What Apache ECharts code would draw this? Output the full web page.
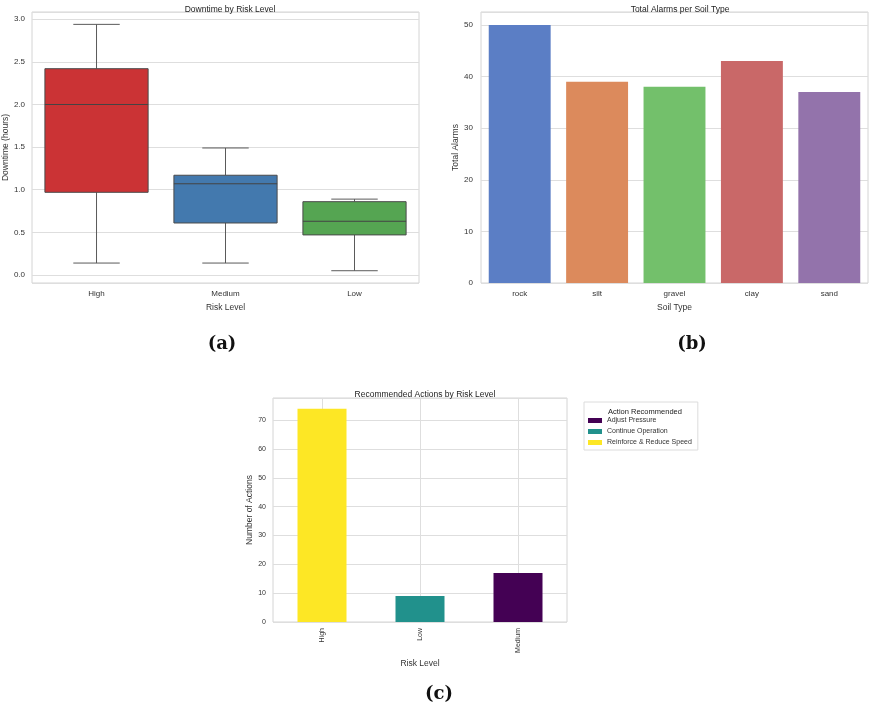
<!DOCTYPE html>
<html><head><meta charset="utf-8">
<script src="https://cdn.jsdelivr.net/npm/echarts@6/dist/echarts.min.js"></script>
<style>html,body{margin:0;padding:0;background:#fff}#c{width:873px;height:705px}</style>
</head><body><div id="c"></div>
<script>
// (a) Downtime by Risk Level
const riskLevels = ['High', 'Medium', 'Low'];
const whiskerLow = [0.14, 0.14, 0.05];
const q1 = [0.97, 0.61, 0.47];
const median = [2.00, 1.07, 0.63];
const q3 = [2.42, 1.17, 0.86];
const whiskerHigh = [2.94, 1.49, 0.89];

// (b) Total Alarms per Soil Type
const soilTypes = ['rock', 'silt', 'gravel', 'clay', 'sand'];
const totalAlarms = [50, 39, 38, 43, 37];

// (c) Recommended Actions by Risk Level
const actionRiskLevels = ['High', 'Low', 'Medium'];
const actionNames = ['Adjust Pressure', 'Continue Operation', 'Reinforce & Reduce Speed'];
const adjustPressure = [0, 0, 17];
const continueOperation = [0, 9, 0];
const reinforceReduce = [74, 0, 0];

// styles
const boxColors = ['#cb3335', '#4379ae', '#55a552'];
const soilColors = ['#5b7ec5', '#dc8a5c', '#73c06b', '#c96868', '#9373ab'];
const actionColors = ['#440154', '#21918c', '#fde725'];
const FONT = 'Liberation Sans';
const gridLine = {show: true, lineStyle: {color: '#dedede', width: 1}};
const tickLbl = {color: '#333', fontSize: 8, fontFamily: FONT};
const nameStyle = {color: '#333', fontSize: 8.5, fontFamily: FONT};
const panelLbl = {fontSize: 18, fontWeight: 'bold', color: '#111', fontFamily: 'DejaVu Serif'};

const chart = echarts.init(document.getElementById('c'));

const boxData = riskLevels.map((r, i) => [i, whiskerLow[i], q1[i], median[i], q3[i], whiskerHigh[i]]);

const option = {
  animation: false,
  backgroundColor: '#fff',
  textStyle: {fontFamily: FONT},
  title: [
    {text: 'Downtime by Risk Level', left: 225, top: 0, textAlign: 'center', textStyle: {fontSize: 8.5, fontWeight: 'normal', color: '#222', fontFamily: FONT}},
    {text: 'Total Alarms per Soil Type', left: 675, top: 0, textAlign: 'center', textStyle: {fontSize: 8.5, fontWeight: 'normal', color: '#222', fontFamily: FONT}},
    {text: 'Recommended Actions by Risk Level', left: 420, top: 385, textAlign: 'center', textStyle: {fontSize: 8.5, fontWeight: 'normal', color: '#222', fontFamily: FONT}},
    {text: 'Action Recommended', left: 640, top: 403, textAlign: 'center', textStyle: {fontSize: 7.5, fontWeight: 'normal', color: '#222', fontFamily: FONT}},
    {text: '(a)', left: 217, top: 330, textAlign: 'center', textStyle: panelLbl},
    {text: '(b)', left: 687, top: 330, textAlign: 'center', textStyle: panelLbl},
    {text: '(c)', left: 434, top: 680, textAlign: 'center', textStyle: panelLbl}
  ],
  legend: {
    data: actionNames,
    orient: 'vertical',
    left: 584, top: 402,
    width: 113,
    padding: [15, 6, 4, 4],
    itemWidth: 14, itemHeight: 5, itemGap: 4,
    borderColor: '#dcdcdc', borderWidth: 1,
    textStyle: {fontSize: 7, color: '#333', fontFamily: FONT},
    icon: 'rect'
  },
  grid: [
    {left: 32, top: 12, width: 387, height: 271, show: true, borderColor: '#d4d4d4', borderWidth: 1, containLabel: false},
    {left: 481, top: 12, width: 387, height: 271, show: true, borderColor: '#d4d4d4', borderWidth: 1, containLabel: false},
    {left: 273, top: 398, width: 294, height: 224, show: true, borderColor: '#d4d4d4', borderWidth: 1, containLabel: false}
  ],
  xAxis: [
    {type: 'category', gridIndex: 0, data: riskLevels, name: 'Risk Level', nameLocation: 'middle', nameGap: 20, nameTextStyle: nameStyle,
      axisLine: {show: false}, axisTick: {show: false}, axisLabel: Object.assign({margin: 7}, tickLbl), splitLine: {show: false}},
    {type: 'category', gridIndex: 1, data: soilTypes, name: 'Soil Type', nameLocation: 'middle', nameGap: 20, nameTextStyle: nameStyle,
      axisLine: {show: false}, axisTick: {show: false}, axisLabel: Object.assign({margin: 7}, tickLbl), splitLine: {show: false}},
    {type: 'category', gridIndex: 2, data: actionRiskLevels, name: 'Risk Level', nameLocation: 'middle', nameGap: 37, nameTextStyle: nameStyle,
      axisLine: {show: false}, axisTick: {show: false, alignWithLabel: true}, axisLabel: Object.assign({margin: 6, rotate: 90}, tickLbl, {fontSize: 7}),
      splitLine: {show: true, alignWithLabel: true, lineStyle: {color: '#dedede'}}}
  ],
  yAxis: [
    {type: 'value', gridIndex: 0, min: -0.094, max: 3.085, splitNumber: 6, name: 'Downtime (hours)', nameLocation: 'middle', nameGap: 20, nameTextStyle: nameStyle,
      axisLine: {show: false}, axisTick: {show: false},
      axisLabel: Object.assign({margin: 7, showMinLabel: false, showMaxLabel: false, formatter: v => v.toFixed(1)}, tickLbl), splitLine: gridLine},
    {type: 'value', gridIndex: 1, min: 0, max: 52.5, interval: 10, name: 'Total Alarms', nameLocation: 'middle', nameGap: 19, nameTextStyle: nameStyle,
      axisLine: {show: false}, axisTick: {show: false},
      axisLabel: Object.assign({margin: 8, showMaxLabel: false}, tickLbl), splitLine: gridLine},
    {type: 'value', gridIndex: 2, min: 0, max: 77.7, interval: 10, name: 'Number of Actions', nameLocation: 'middle', nameGap: 16, nameTextStyle: nameStyle,
      axisLine: {show: false}, axisTick: {show: false},
      axisLabel: Object.assign({margin: 7, showMaxLabel: false}, tickLbl, {fontSize: 7}), splitLine: gridLine}
  ],
  series: [
    {
      type: 'custom', xAxisIndex: 0, yAxisIndex: 0, data: boxData,
      encode: {x: 0, y: [1, 2, 3, 4, 5]},
      renderItem: function (params, api) {
        const idx = api.value(0);
        const band = api.size([1, 0])[0];
        const bw = band * 0.8, cw = bw * 0.45;
        const pLo = api.coord([idx, api.value(1)]);
        const pQ1 = api.coord([idx, api.value(2)]);
        const pMed = api.coord([idx, api.value(3)]);
        const pQ3 = api.coord([idx, api.value(4)]);
        const pHi = api.coord([idx, api.value(5)]);
        const cx = pLo[0];
        const wStyle = {stroke: '#5a5a5a', lineWidth: 1};
        return {type: 'group', children: [
          {type: 'line', shape: {x1: cx, y1: pLo[1], x2: cx, y2: pQ1[1]}, style: wStyle},
          {type: 'line', shape: {x1: cx, y1: pQ3[1], x2: cx, y2: pHi[1]}, style: wStyle},
          {type: 'line', shape: {x1: cx - cw / 2, y1: pLo[1], x2: cx + cw / 2, y2: pLo[1]}, style: wStyle},
          {type: 'line', shape: {x1: cx - cw / 2, y1: pHi[1], x2: cx + cw / 2, y2: pHi[1]}, style: wStyle},
          {type: 'rect', shape: {x: cx - bw / 2, y: pQ3[1], width: bw, height: pQ1[1] - pQ3[1]},
            style: {fill: boxColors[idx], stroke: '#4a4a4a', lineWidth: 1}},
          {type: 'line', shape: {x1: cx - bw / 2, y1: pMed[1], x2: cx + bw / 2, y2: pMed[1]}, style: {stroke: '#444', lineWidth: 1}}
        ]};
      }
    },
    {
      type: 'bar', xAxisIndex: 1, yAxisIndex: 1, barWidth: '80%',
      data: totalAlarms.map((v, i) => ({value: v, itemStyle: {color: soilColors[i]}}))
    },
    {name: actionNames[0], type: 'bar', stack: 'a', xAxisIndex: 2, yAxisIndex: 2, barWidth: '50%', data: adjustPressure, itemStyle: {color: actionColors[0]}},
    {name: actionNames[1], type: 'bar', stack: 'a', xAxisIndex: 2, yAxisIndex: 2, barWidth: '50%', data: continueOperation, itemStyle: {color: actionColors[1]}},
    {name: actionNames[2], type: 'bar', stack: 'a', xAxisIndex: 2, yAxisIndex: 2, barWidth: '50%', data: reinforceReduce, itemStyle: {color: actionColors[2]}}
  ]
};
chart.setOption(option);
</script>
</body></html>
